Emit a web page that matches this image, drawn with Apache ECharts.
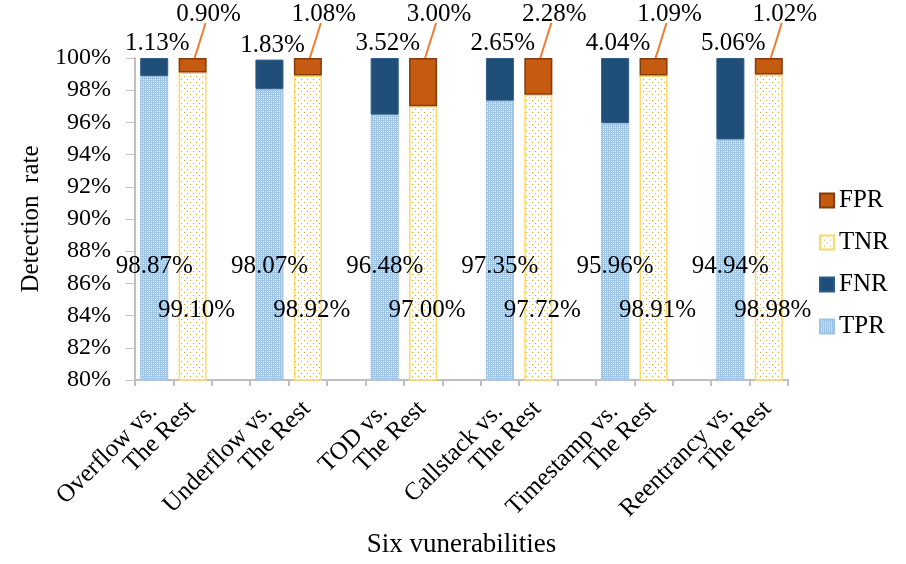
<!DOCTYPE html>
<html>
<head>
<meta charset="utf-8">
<script src="https://cdn.jsdelivr.net/npm/echarts@6/dist/echarts.min.js"></script>
<style>html,body{margin:0;padding:0;background:#fff}#c{width:906px;height:564px}</style>
</head>
<body>
<div id="c"></div>
<script>
const groups = ['Overflow vs.\nThe Rest', 'Underflow vs.\nThe Rest', 'TOD vs.\nThe Rest', 'Callstack vs.\nThe Rest', 'Timestamp vs.\nThe Rest', 'Reentrancy vs.\nThe Rest'];
const tpr = [98.87, 98.07, 96.48, 97.35, 95.96, 94.94];
const fnr = [1.13, 1.83, 3.52, 2.65, 4.04, 5.06];
const tnr = [99.10, 98.92, 97.00, 97.72, 98.91, 98.98];
const fpr = [0.90, 1.08, 3.00, 2.28, 1.09, 1.02];
const yTicks = [80, 82, 84, 86, 88, 90, 92, 94, 96, 98, 100];

const FONT = "'Liberation Serif', 'Times New Roman', serif";

function makePattern(kind) {
  const c = document.createElement('canvas');
  const ctx = c.getContext('2d');
  if (kind === 'tpr') {
    c.width = 4; c.height = 4;
    ctx.fillStyle = '#9dc3e6'; ctx.fillRect(0, 0, 4, 4);
    ctx.fillStyle = '#ffffff';
    ctx.fillRect(1, 1, 1, 1); ctx.fillRect(3, 3, 1, 1);
    ctx.fillStyle = '#d9e8f6';
    ctx.fillRect(3, 1, 1, 1); ctx.fillRect(1, 3, 1, 1);
  } else {
    c.width = 6; c.height = 6;
    ctx.fillStyle = '#ffffff'; ctx.fillRect(0, 0, 6, 6);
    ctx.fillStyle = '#cfa531';
    ctx.fillRect(1, 1, 1, 1); ctx.fillRect(4, 4, 1, 1);
  }
  return { image: c, repeat: 'repeat' };
}

const nSlots = groups.length * 3 - 1;
const slots = [];
for (let i = 0; i < nSlots; i++) slots.push('s' + i);
function slotData(arr, off) {
  const d = [];
  for (let i = 0; i < nSlots; i++) d.push('-');
  arr.forEach((v, g) => { d[g * 3 + off] = v; });
  return d;
}
const labelCats = [];
for (let i = 0; i <= nSlots; i++) labelCats.push('');
groups.forEach((g, i) => { labelCats[i * 3 + 1] = g; });

// FPR callout data: [slot, top of stacked bar, fpr value]
const fprCallouts = fpr.map((v, g) => [g * 3 + 1, tnr[g] + v, v]);

const pct = p => p.value.toFixed(2) + '%';
const lbl = { fontFamily: FONT, fontSize: 25, color: '#000' };

const option = {
  animation: false,
  backgroundColor: '#fff',
  textStyle: { fontFamily: FONT },
  grid: { left: 135, right: 118, top: 58, bottom: 184 },
  legend: {
    orient: 'vertical', left: 814, top: 183, itemGap: 17,
    itemWidth: 14, itemHeight: 14, icon: 'rect',
    textStyle: { fontFamily: FONT, fontSize: 25, color: '#000' },
    data: ['FPR', 'TNR', 'FNR', 'TPR']
  },
  xAxis: [{
    type: 'category', data: slots, position: 'bottom',
    axisLine: { lineStyle: { color: '#bfbfbf', width: 2 } },
    axisTick: { show: true, interval: 0, length: 6, lineStyle: { color: '#bfbfbf', width: 2 } },
    axisLabel: { show: false },
    name: 'Six vunerabilities', nameLocation: 'middle', nameGap: 151,
    nameTextStyle: { fontFamily: FONT, fontSize: 27, color: '#000' }
  }, {
    type: 'category', data: labelCats, position: 'bottom', boundaryGap: false,
    axisLine: { show: false }, axisTick: { show: false },
    axisLabel: {
      interval: 0, rotate: 45, margin: 0, padding: [36, 5, 0, 0],
      fontFamily: FONT, fontSize: 25, color: '#000',
      formatter: v => {
        if (!v) return '';
        const parts = v.split('\n');
        return '{a|' + parts[0] + '}\n{b|' + parts[1] + '}';
      },
      rich: {
        a: { fontFamily: FONT, fontSize: 25, color: '#000', lineHeight: 25, padding: [0, 29, 0, 0] },
        b: { fontFamily: FONT, fontSize: 25, color: '#000', lineHeight: 25 }
      }
    }
  }],
  yAxis: {
    type: 'value', min: 80, max: 100, interval: 2,
    name: 'Detection  rate', nameLocation: 'middle', nameGap: 85,
    nameTextStyle: { fontFamily: FONT, fontSize: 25, color: '#000' },
    axisLine: { show: true, lineStyle: { color: '#bfbfbf', width: 2 } },
    axisTick: { show: true, length: 9, lineStyle: { color: '#bfbfbf', width: 1 } },
    splitLine: { show: false },
    axisLabel: { margin: 24, fontFamily: FONT, fontSize: 24, color: '#000', formatter: '{value}%' }
  },
  series: [
    {
      name: 'TPR', type: 'bar', stack: 'all', barWidth: '73%', data: slotData(tpr, 0),
      itemStyle: { color: makePattern('tpr'), borderColor: '#9dc3e6', borderWidth: 1 },
      label: Object.assign({ show: true, position: 'insideBottom', offset: [0, -97], formatter: pct }, lbl)
    },
    {
      name: 'FNR', type: 'bar', stack: 'all', barWidth: '73%', data: slotData(fnr, 0),
      itemStyle: { color: '#1f4e79', borderColor: '#2e5c8a', borderWidth: 1 },
      label: Object.assign({ show: true, position: 'top', offset: [3, 3], formatter: pct }, lbl)
    },
    {
      name: 'TNR', type: 'bar', stack: 'all', barWidth: '73%', data: slotData(tnr, 1),
      itemStyle: { color: makePattern('tnr'), borderColor: '#ffd966', borderWidth: 1.5 },
      label: Object.assign({ show: true, position: 'insideBottom', offset: [4, -53], formatter: pct }, lbl)
    },
    {
      name: 'FPR', type: 'bar', stack: 'all', barWidth: '73%', data: slotData(fpr, 1),
      itemStyle: { color: '#c55a11', borderColor: '#843c0c', borderWidth: 1.5 },
      label: { show: false }
    },
    {
      name: 'FPR callout', type: 'custom', data: fprCallouts, clip: false, silent: true,
      renderItem: (params, api) => {
        const p = api.coord([api.value(0), api.value(1)]);
        return {
          type: 'group',
          children: [{
            type: 'line',
            shape: { x1: p[0] + 2, y1: p[1], x2: p[0] + 13, y2: p[1] - 35 },
            style: { stroke: '#ed7d31', lineWidth: 2 }
          }, {
            type: 'text',
            x: p[0] + 16, y: p[1] - 44,
            style: {
              text: api.value(2).toFixed(2) + '%', fontFamily: FONT, fontSize: 25, fill: '#000',
              align: 'center', verticalAlign: 'middle'
            }
          }]
        };
      }
    }
  ]
};

const chart = echarts.init(document.getElementById('c'), null, { renderer: 'canvas' });
chart.setOption(option);
</script>
</body>
</html>
